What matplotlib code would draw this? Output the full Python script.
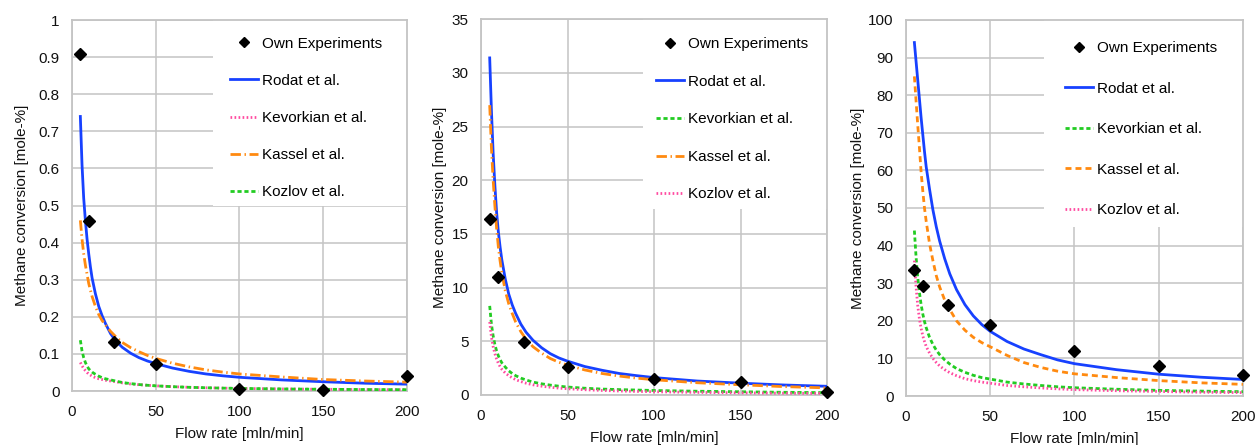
import matplotlib
matplotlib.use("Agg")
import matplotlib.pyplot as plt
from matplotlib.patches import Rectangle

plt.rcParams['font.family'] = ['Liberation Sans', 'DejaVu Sans']
plt.rcParams['lines.scale_dashes'] = False

# Flow rates of the experiments [mln/min]
flow_exp = [5, 10, 25, 50, 100, 150, 200]
# Flow rates at which the kinetic models are evaluated
flow_model = [5, 6, 7, 8, 9, 10, 11, 12, 14, 16, 18, 20, 23, 26, 30, 35, 40, 45, 50,
              60, 70, 80, 90, 100, 125, 150, 175, 200]

# ---- Panel 1 ----
p1_exp = [0.908, 0.459, 0.132, 0.072, 0.006, 0.003, 0.040]
p1_rodat = [0.74, 0.61, 0.52, 0.46, 0.41, 0.37, 0.335, 0.305, 0.262, 0.228, 0.203, 0.182,
            0.155, 0.136, 0.118, 0.102, 0.09, 0.081, 0.074, 0.062, 0.053, 0.046, 0.041,
            0.037, 0.030, 0.025, 0.021, 0.0185]
p1_kevorkian = [0.077, 0.068, 0.061, 0.055, 0.05, 0.046, 0.043, 0.040, 0.036, 0.033, 0.031,
                0.029, 0.027, 0.025, 0.022, 0.019, 0.017, 0.0155, 0.014, 0.0117, 0.010,
                0.0088, 0.0078, 0.007, 0.0056, 0.0047, 0.004, 0.0035]
p1_kassel = [0.46, 0.41, 0.37, 0.34, 0.315, 0.29, 0.272, 0.255, 0.228, 0.206, 0.19, 0.178,
             0.161, 0.147, 0.131, 0.117, 0.106, 0.096, 0.088, 0.075, 0.065, 0.057, 0.051,
             0.046, 0.038, 0.031, 0.027, 0.024]
p1_kozlov = [0.137, 0.108, 0.09, 0.077, 0.067, 0.06, 0.055, 0.051, 0.045, 0.04, 0.036, 0.033,
             0.030, 0.027, 0.023, 0.020, 0.0175, 0.0155, 0.014, 0.0117, 0.010, 0.0088,
             0.0078, 0.007, 0.0056, 0.0047, 0.004, 0.0035]

# ---- Panel 2 ----
p2_exp = [16.4, 11.0, 4.97, 2.64, 1.46, 1.24, 0.31]
p2_rodat = [31.4, 26.5, 22.5, 19.5, 17.0, 15.2, 13.8, 12.6, 10.8, 9.4, 8.4, 7.6, 6.6, 5.85,
            5.1, 4.4, 3.85, 3.45, 3.15, 2.65, 2.3, 2.0, 1.8, 1.62, 1.3, 1.1, 0.93, 0.81]
p2_kevorkian = [8.3, 6.6, 5.5, 4.7, 4.1, 3.65, 3.3, 3.0, 2.6, 2.25, 2.0, 1.8, 1.57, 1.4, 1.2,
                1.04, 0.92, 0.82, 0.74, 0.63, 0.55, 0.5, 0.46, 0.42, 0.35, 0.3, 0.25, 0.22]
p2_kassel = [27.0, 23.0, 20.0, 17.6, 15.5, 13.8, 12.5, 11.4, 9.7, 8.5, 7.6, 6.8, 5.9, 5.2,
             4.5, 3.9, 3.4, 3.05, 2.78, 2.33, 2.0, 1.76, 1.57, 1.42, 1.14, 0.95, 0.78, 0.66]
p2_kozlov = [6.8, 5.4, 4.5, 3.85, 3.35, 2.95, 2.65, 2.4, 2.05, 1.8, 1.6, 1.43, 1.25, 1.1, 0.95,
             0.82, 0.72, 0.64, 0.58, 0.49, 0.42, 0.37, 0.33, 0.3, 0.24, 0.2, 0.17, 0.15]

# ---- Panel 3 ----
p3_exp = [33.5, 29.3, 24.3, 19.0, 12.0, 8.0, 5.5]
p3_rodat = [94, 89, 84, 79, 74, 69.5, 65, 61, 55, 49.5, 45, 41.2, 36.5, 32.5, 28.3, 24.3,
            21.3, 19.0, 17.2, 14.5, 12.5, 11.0, 9.6, 8.6, 7.0, 5.8, 5.0, 4.4]
p3_kevorkian = [44, 37, 31.5, 27.5, 24.3, 21.8, 19.8, 18.2, 15.6, 13.7, 12.2, 11, 9.6, 8.5,
                7.3, 6.3, 5.5, 4.9, 4.5, 3.7, 3.2, 2.8, 2.45, 2.2, 1.8, 1.5, 1.3, 1.15]
p3_kassel = [85, 78.5, 72, 66, 59.5, 54.5, 50, 46.5, 40.5, 36, 32, 29, 25.5, 23, 20, 17.5,
             15.6, 14.2, 13.1, 10.8, 8.9, 7.6, 6.6, 5.9, 4.9, 4.1, 3.5, 3.1]
p3_kozlov = [36, 29, 24, 20.5, 18, 16, 14.5, 13.2, 11.4, 10, 8.9, 8, 7, 6.2, 5.4, 4.6, 4.1,
             3.7, 3.4, 2.8, 2.45, 2.15, 1.9, 1.7, 1.4, 1.2, 1.0, 0.9]

x_ticks = [0, 50, 100, 150, 200]
p1_yticks = [0, 0.1, 0.2, 0.3, 0.4, 0.5, 0.6, 0.7, 0.8, 0.9, 1]
p1_ylabels = ['0', '0.1', '0.2', '0.3', '0.4', '0.5', '0.6', '0.7', '0.8', '0.9', '1']
p2_yticks = [0, 5, 10, 15, 20, 25, 30, 35]
p3_yticks = [0, 10, 20, 30, 40, 50, 60, 70, 80, 90, 100]

BLUE = '#1741ff'
ORANGE = '#ff8a10'
GREEN = '#22cc22'
PINK = '#ff4aa0'
GRID = '#c4c4c4'
TEXT = '#111111'

long_dash_dot = (0, (7.5, 2.6, 1.0, 2.6))
short_dash = (0, (4.3, 2.9))
green_dash = (0, (3.0, 2.0))
dotted = (0, (1.2, 1.7))

FS = 11

fig = plt.figure(figsize=(12.56, 4.45), dpi=100)

# legend_box: white background (x0, y0) in axes fraction, up to the top-right corner
# legend_anchor: upper-left corner of the legend entries in axes fraction
panels = [
    dict(rect=[0.0573, 0.1213, 0.2667, 0.8337], ylim=(0, 1), yticks=p1_yticks, ylabels=p1_ylabels,
         exp=p1_exp,
         series=[('Rodat et al.', p1_rodat, BLUE, '-'),
                 ('Kevorkian et al.', p1_kevorkian, PINK, dotted),
                 ('Kassel et al.', p1_kassel, ORANGE, long_dash_dot),
                 ('Kozlov et al.', p1_kozlov, GREEN, green_dash)],
         legend_box=(0.421, 0.499), legend_anchor=(0.4716, 0.955),
         labelspacing=1.51, ylabelpad=7),
    dict(rect=[0.3830, 0.1124, 0.2755, 0.8443], ylim=(0, 35), yticks=p2_yticks, ylabels=None,
         exp=p2_exp,
         series=[('Rodat et al.', p2_rodat, BLUE, '-'),
                 ('Kevorkian et al.', p2_kevorkian, GREEN, green_dash),
                 ('Kassel et al.', p2_kassel, ORANGE, long_dash_dot),
                 ('Kozlov et al.', p2_kozlov, PINK, dotted)],
         legend_box=(0.468, 0.495), legend_anchor=(0.5058, 0.952),
         labelspacing=1.54, ylabelpad=3),
    dict(rect=[0.7213, 0.1101, 0.2683, 0.8450], ylim=(0, 100), yticks=p3_yticks, ylabels=None,
         exp=p3_exp,
         series=[('Rodat et al.', p3_rodat, BLUE, '-'),
                 ('Kevorkian et al.', p3_kevorkian, GREEN, green_dash),
                 ('Kassel et al.', p3_kassel, ORANGE, short_dash),
                 ('Kozlov et al.', p3_kozlov, PINK, dotted)],
         legend_box=(0.4095, 0.449), legend_anchor=(0.4718, 0.943),
         labelspacing=1.73, ylabelpad=2),
]

for p in panels:
    ax = fig.add_axes(p['rect'])
    ax.set_xlim(0, 200)
    ax.set_ylim(*p['ylim'])
    ax.set_xticks(x_ticks)
    ax.set_yticks(p['yticks'])
    if p['ylabels'] is not None:
        ax.set_yticklabels(p['ylabels'])
    ax.grid(True, color=GRID, linewidth=1.1, zorder=0)
    ax.set_axisbelow(True)
    for s in ax.spines.values():
        s.set_color(GRID)
        s.set_linewidth(1.3)
    ax.tick_params(length=0, labelsize=FS, colors=TEXT)
    ax.tick_params(axis='y', pad=9)
    ax.tick_params(axis='x', pad=10)

    # white area behind the legend hides the grid there
    bx, by = p['legend_box']
    ax.add_patch(Rectangle((bx, by), 1 - bx, 1 - by, transform=ax.transAxes,
                           facecolor='white', edgecolor='none', zorder=1))

    ax.plot(flow_exp, p['exp'], linestyle='none', marker='D', markersize=6.2,
            color='black', clip_on=False, zorder=5, label='Own Experiments')
    for name, vals, col, ls in p['series']:
        ax.plot(flow_model, vals, color=col, linestyle=ls, linewidth=2.0,
                label=name, zorder=3, dash_capstyle='butt')

    ax.set_xlabel('Flow rate [mln/min]', fontsize=FS, labelpad=6, color=TEXT)
    ax.set_ylabel('Methane conversion [mole-%]', fontsize=FS, labelpad=p['ylabelpad'], color=TEXT)

    leg = ax.legend(loc='upper left', bbox_to_anchor=p['legend_anchor'], borderaxespad=0,
                    borderpad=0, fontsize=FS, frameon=False,
                    handlelength=1.85, handletextpad=0.26, labelspacing=p['labelspacing'],
                    markerscale=0.8)
    leg.set_zorder(4)

fig.savefig('out.png', dpi=100)
